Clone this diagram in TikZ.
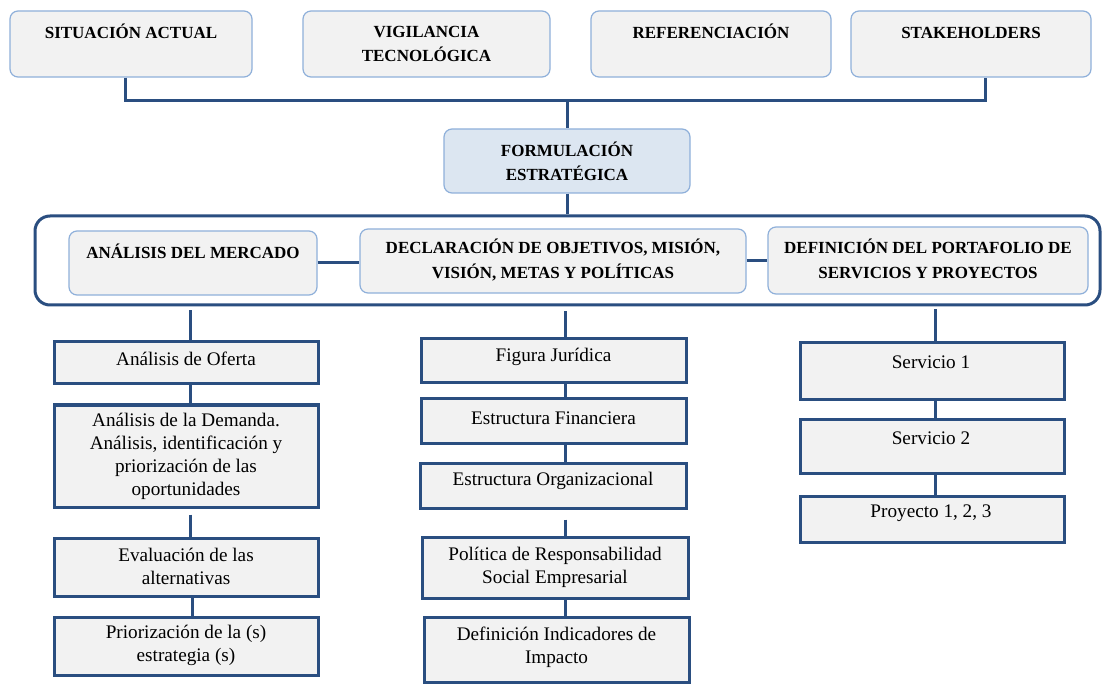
\documentclass[tikz,border=0pt]{standalone}
\usepackage{fontspec}
\setmainfont{Liberation Serif}
\definecolor{boxgray}{HTML}{F2F2F2}
\definecolor{lblue}{HTML}{8FB0DA}
\definecolor{formfill}{HTML}{DCE6F1}
\definecolor{dblue}{HTML}{2A4E80}
\begin{document}
\begin{tikzpicture}[x=1pt,y=-1pt,
  tbox/.style={draw=lblue, fill=boxgray, rounded corners=8pt, line width=1.2pt, inner sep=0pt},
  fbox/.style={tbox, fill=formfill},
  sbox/.style={draw=dblue, fill=boxgray, line width=3pt, inner sep=0pt},
  conn/.style={draw=dblue, line width=3pt},
  framebox/.style={draw=dblue, line width=3pt, rounded corners=15pt, inner sep=0pt},
  btxt/.style={font=\fontsize{17}{24.5}\selectfont\bfseries, align=center, inner sep=0pt},
  ntxt/.style={font=\fontsize{19.2}{23}\selectfont, align=center, inner sep=0pt}
]
\useasboundingbox[fill=white] (0,0) rectangle (1119,700);

% top boxes
\node[tbox, minimum width=242pt, minimum height=66pt] (sit) at (131,44) {};
\node[tbox, minimum width=247pt, minimum height=66pt] (vig) at (426.5,44) {};
\node[tbox, minimum width=240pt, minimum height=66pt] (ref) at (711,44) {};
\node[tbox, minimum width=240pt, minimum height=66pt] (stk) at (971,44) {};
\node[btxt] (sitt) at (131,31) {SITUACIÓN ACTUAL};
\node[btxt] (vigt) at (426.5,44) {VIGILANCIA\\TECNOLÓGICA};
\node[btxt] (reft) at (711,31) {REFERENCIACIÓN};
\node[btxt] (stkt) at (971,32.5) {STAKEHOLDERS};

% formulacion
\node[fbox, minimum width=246pt, minimum height=64pt] (form) at (567,161) {};
\node[btxt] (formt) at (567,161.5) {FORMULACIÓN\\ESTRATÉGICA};

\coordinate (bus) at (567,101);
\draw[conn] ([xshift=-6pt]sit.south) |- (bus) -| ([xshift=14pt]stk.south);
\draw[conn] (bus) -- (form.north);

% frame
\node[framebox, minimum width=1065pt, minimum height=89pt] (frame) at (567.5,260.5) {};
\draw[conn] (form.south) -- (form.south |- frame.north);

\node[tbox, minimum width=248pt, minimum height=64pt] (am) at (193,263) {};
\node[tbox, minimum width=386pt, minimum height=64pt] (dec) at (553,261) {};
\node[tbox, minimum width=320pt, minimum height=67pt] (def) at (928,260.5) {};
\node[btxt] (amt) at (193,251) {ANÁLISIS DEL MERCADO};
\node[btxt] (dect) at (553,260) {DECLARACIÓN DE OBJETIVOS, MISIÓN,\\VISIÓN, METAS Y POLÍTICAS};
\node[btxt] (deft) at (928,259) {DEFINICIÓN DEL PORTAFOLIO DE\\SERVICIOS Y PROYECTOS};
\draw[conn] (am.east) -- (am.east -| dec.west);
\draw[conn] (dec.east) -- (dec.east -| def.west);

% left column
\coordinate (lx) at (190,0);
\node[sbox, minimum width=264pt, minimum height=42pt] (ofe) at (186,363) {};
\node[sbox, minimum width=264pt, minimum height=102pt] (dem) at (186,456) {};
\node[sbox, minimum width=264pt, minimum height=58pt] (eva) at (186,567) {};
\node[sbox, minimum width=264pt, minimum height=58pt] (pri) at (186,646) {};
\node[ntxt] (ofet) at (186,359) {Análisis de Oferta};
\node[ntxt] (demt) at (186,456) {Análisis de la Demanda.\\Análisis, identificación y\\priorización de las\\oportunidades};
\node[ntxt] (evat) at (186,566) {Evaluación de las\\alternativas};
\node[ntxt] (prit) at (186,645) {Priorización de la (s)\\estrategia (s)};
\draw[conn] ([yshift=-4pt]lx |- frame.south) -- (lx |- ofe.north);
\draw[conn] (lx |- ofe.south) -- (lx |- dem.north);
\draw[conn] ([yshift=-6pt]lx |- dem.south) -- (lx |- eva.north);
\draw[conn] ([xshift=2pt]lx |- eva.south) -- ([xshift=2pt]lx |- pri.north);

% middle column
\coordinate (mx) at (565,0);
\node[sbox, minimum width=265pt, minimum height=44pt] (fig) at (553.5,361) {};
\node[sbox, minimum width=265pt, minimum height=44pt] (fin) at (553.5,421) {};
\node[sbox, minimum width=266pt, minimum height=45pt] (org) at (553,485.5) {};
\node[sbox, minimum width=266pt, minimum height=61pt] (pol) at (555,567.5) {};
\node[sbox, minimum width=265pt, minimum height=65pt] (ind) at (556.5,649.5) {};
\node[ntxt] (figt) at (553.5,357) {Figura Jurídica};
\node[ntxt] (fint) at (553.5,418) {Estructura Financiera};
\node[ntxt] (orgt) at (553,481) {Estructura Organizacional};
\node[ntxt] (polt) at (555,567) {Política de Responsabilidad\\Social Empresarial};
\node[ntxt] (indt) at (556.5,647) {Definición Indicadores de\\Impacto};
\draw[conn] ([yshift=-5pt]mx |- frame.south) -- (mx |- fig.north);
\draw[conn] (mx |- fig.south) -- (mx |- fin.north);
\draw[conn] (mx |- fin.south) -- (mx |- org.north);
\draw[conn] ([yshift=-10pt]mx |- org.south) -- (mx |- pol.north);
\draw[conn] (mx |- pol.south) -- (mx |- ind.north);

% right column
\coordinate (rx) at (935,0);
\node[sbox, minimum width=264pt, minimum height=57pt] (sv1) at (932,371.5) {};
\node[sbox, minimum width=264pt, minimum height=54pt] (sv2) at (932,446) {};
\node[sbox, minimum width=264pt, minimum height=46pt] (pry) at (932,519) {};
\node[ntxt] (sv1t) at (931,362) {Servicio 1};
\node[ntxt] (sv2t) at (931,438) {Servicio 2};
\node[ntxt] (pryt) at (931,513) {Proyecto 1, 2, 3};
\draw[conn] ([yshift=-3pt]rx |- frame.south) -- (rx |- sv1.north);
\draw[conn] (rx |- sv1.south) -- (rx |- sv2.north);
\draw[conn] (rx |- sv2.south) -- (rx |- pry.north);
\end{tikzpicture}
\end{document}
